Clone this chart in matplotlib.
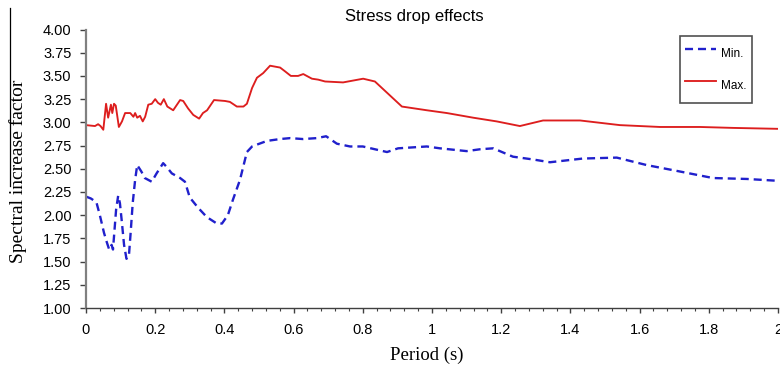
import matplotlib
matplotlib.use("Agg")
import matplotlib.pyplot as plt
from matplotlib.ticker import MultipleLocator, FuncFormatter
from matplotlib.lines import Line2D

# Period (s) and spectral increase factor for the two stress-drop bounds
period_max = [0, 0.026, 0.035, 0.042, 0.05, 0.058, 0.064, 0.072, 0.076, 0.081, 0.086,
              0.095, 0.104, 0.113, 0.122, 0.128, 0.137, 0.142, 0.148, 0.156, 0.164,
              0.171, 0.180, 0.190, 0.200, 0.208, 0.216, 0.225, 0.235, 0.252, 0.272,
              0.281, 0.295, 0.310, 0.327, 0.338, 0.350, 0.370, 0.402, 0.416, 0.436,
              0.455, 0.465, 0.480, 0.494, 0.512, 0.532, 0.561, 0.575, 0.592, 0.613,
              0.628, 0.653, 0.671, 0.691, 0.743, 0.772, 0.801, 0.835, 0.913, 0.985,
              1.043, 1.119, 1.187, 1.254, 1.321, 1.428, 1.543, 1.659, 1.775, 1.870, 2.0]
sif_max = [2.97, 2.96, 2.98, 2.96, 2.92, 3.20, 3.05, 3.19, 3.10, 3.20, 3.18,
           2.95, 3.01, 3.10, 3.10, 3.10, 3.06, 3.10, 3.05, 3.07, 3.01,
           3.06, 3.19, 3.20, 3.25, 3.21, 3.19, 3.25, 3.17, 3.13, 3.24,
           3.23, 3.15, 3.08, 3.04, 3.10, 3.13, 3.24, 3.23, 3.22, 3.17,
           3.17, 3.20, 3.37, 3.48, 3.53, 3.61, 3.59, 3.55, 3.50, 3.50,
           3.52, 3.47, 3.46, 3.44, 3.43, 3.45, 3.47, 3.44, 3.17, 3.13,
           3.10, 3.05, 3.01, 2.96, 3.02, 3.02, 2.97, 2.95, 2.95, 2.94, 2.93]

period_min = [0, 0.014, 0.03, 0.04, 0.052, 0.06, 0.067, 0.074, 0.078, 0.087, 0.093,
              0.098, 0.103, 0.11, 0.117, 0.124, 0.129, 0.135, 0.142, 0.148, 0.16,
              0.17, 0.19, 0.204, 0.223, 0.233, 0.248, 0.272, 0.286, 0.30, 0.324,
              0.349, 0.378, 0.393, 0.41, 0.425, 0.445, 0.465, 0.48, 0.494, 0.523,
              0.561, 0.59, 0.627, 0.667, 0.694, 0.725, 0.763, 0.80, 0.835, 0.87,
              0.902, 0.985, 1.023, 1.10, 1.139, 1.177, 1.234, 1.292, 1.341, 1.436,
              1.534, 1.62, 1.717, 1.812, 1.91, 2.0]
sif_min = [2.20, 2.18, 2.14, 2.00, 1.81, 1.71, 1.63, 1.68, 1.63, 2.06, 2.21,
           2.13, 1.95, 1.68, 1.53, 1.56, 1.81, 2.13, 2.38, 2.54, 2.47,
           2.40, 2.36, 2.45, 2.56, 2.52, 2.45, 2.40, 2.36, 2.19, 2.08,
           1.98, 1.91, 1.91, 2.00, 2.17, 2.38, 2.68, 2.74, 2.76, 2.80,
           2.82, 2.83, 2.82, 2.83, 2.85, 2.77, 2.74, 2.74, 2.71, 2.68,
           2.72, 2.74, 2.72, 2.69, 2.71, 2.72, 2.63, 2.60, 2.57, 2.61,
           2.62, 2.54, 2.47, 2.40, 2.39, 2.37]

series_labels = ["Min.", "Max."]
title_text = "Stress drop effects"
xlabel_text = "Period (s)"
ylabel_text = "Spectral increase factor"

W, H = 780, 369
fig = plt.figure(figsize=(W / 100, H / 100), dpi=100)
ax = fig.add_axes([86 / W, 1 - 308 / H, (778 - 86) / W, (308 - 29.5) / H])

ax.plot(period_min, sif_min, color="#2020CC", lw=1.7, dashes=(3.4, 2.1),
        label=series_labels[0])
ax.plot(period_max, sif_max, color="#DD1E1E", lw=1.35, label=series_labels[1])

ax.set_xlim(0, 2)
ax.set_ylim(1, 4)
ax.xaxis.set_major_locator(MultipleLocator(0.2))
ax.xaxis.set_minor_locator(MultipleLocator(0.04))
ax.yaxis.set_major_locator(MultipleLocator(0.25))
ax.xaxis.set_major_formatter(FuncFormatter(lambda v, p: f"{v:g}"))
ax.yaxis.set_major_formatter(FuncFormatter(lambda v, p: f"{v:.2f}"))

for side in ("top", "right"):
    ax.spines[side].set_visible(False)
ax.spines["left"].set_color("#808080")
ax.spines["left"].set_linewidth(1.6)
ax.spines["bottom"].set_color("#404040")
ax.spines["bottom"].set_linewidth(1.0)

ax.tick_params(axis="y", which="major", direction="out", length=4, width=1,
               color="#404040", pad=6.5, labelsize=10.5)
ax.tick_params(axis="x", which="major", direction="out", length=3.5, width=1,
               color="#404040", pad=7, labelsize=10.5)
ax.tick_params(axis="x", which="minor", direction="out", length=2.5, width=0.8,
               color="#404040")
for lab in ax.get_xticklabels() + ax.get_yticklabels():
    lab.set_fontfamily("Liberation Sans")

fig.text(414 / W, 1 - 16 / H, title_text, ha="center", va="center",
         family="Liberation Sans", fontsize=12)
fig.text(427 / W, 1 - 355 / H, xlabel_text, ha="center", va="center",
         family="Liberation Serif", fontsize=13.5)
fig.text(18 / W, 1 - 171 / H, ylabel_text, ha="center", va="center",
         rotation=90, family="Liberation Serif", fontsize=14)
fig.add_artist(Line2D([10 / W, 10 / W], [1 - 8 / H, 1 - 186 / H],
                      transform=fig.transFigure, color="black", lw=0.9))

leg = ax.legend(loc="upper left", bbox_to_anchor=(680 / W, 1 - 36 / H),
                bbox_transform=fig.transFigure, borderaxespad=0,
                prop={"family": "Liberation Sans", "size": 8.5},
                handlelength=2.6, handletextpad=0.4, borderpad=0.45,
                handleheight=2.7, labelspacing=0.75,
                fancybox=False, framealpha=1, edgecolor="#505050")
leg.get_frame().set_linewidth(1.2)

fig.savefig("out.png", dpi=100)
